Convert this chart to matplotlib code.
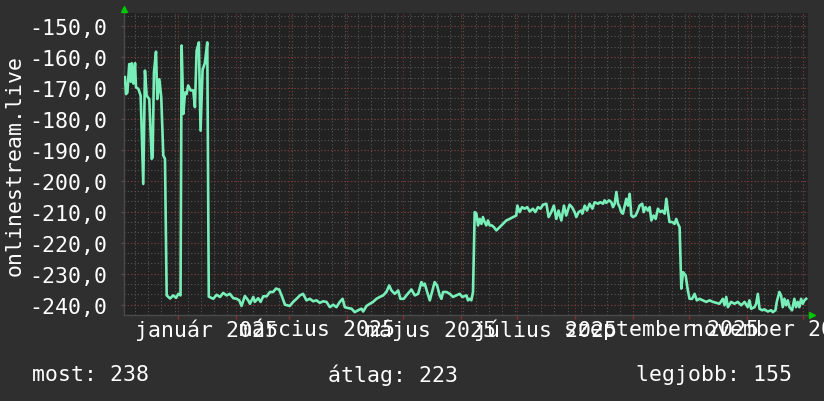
import matplotlib
matplotlib.use("Agg")
import matplotlib.pyplot as plt
import pandas as pd
import numpy as np

# day offsets from the first sample (2024-12-03) and the negated rank
start = pd.Timestamp("2024-12-03")
days = [0.5, 1.1, 1.8, 2.8, 3.6, 4.1, 5.0, 5.9, 6.4, 7.7, 8.9, 10.3, 11.2, 12.1, 13.5,
        14.8, 15.3, 16.0, 17.1, 17.8, 18.9, 19.9, 21.0, 21.9, 22.8, 24.6, 26.3, 27.8,
        29.0, 30.2, 30.8, 31.7, 32.6, 33.4, 34.3, 35.6, 37.0, 37.9, 38.8, 40.0, 40.9,
        42.0, 43.2, 44.5, 45.3, 47.7, 49.5, 51.3, 53.0, 54.8, 56.6, 58.4, 60.2, 61.6,
        62.8, 64.6, 66.4, 67.3, 69.1, 69.9, 71.7, 73.0, 74.4, 76.2, 78.0, 79.7, 81.2,
        82.9, 84.2, 86.0, 87.2, 88.6, 90.4, 92.2, 94.0, 95.7, 97.5, 99.3, 101.1, 102.9,
        104.6, 106.4, 108.2, 110.0, 111.8, 113.5, 115.3, 116.8, 118.0, 119.8, 121.6,
        123.3, 125.1, 126.9, 127.8, 129.6, 131.4, 133.1, 134.9, 136.7, 138.5, 140.2,
        141.7, 142.9, 144.7, 146.5, 147.7, 149.5, 150.9, 152.7, 153.6, 155.4, 157.2,
        158.9, 159.8, 160.7, 162.0, 163.4, 164.8, 166.0, 167.3, 168.7, 169.6, 170.5,
        172.3, 174.1, 175.8, 177.6, 179.4, 180.8, 183.0, 183.8, 184.7, 185.6, 186.5,
        187.4, 188.3, 189.2, 190.1, 191.0, 191.8, 192.7, 193.6, 194.5, 195.4, 196.6,
        197.7, 199.0, 200.7, 202.5, 204.3, 206.1, 207.9, 209.6, 210.2, 211.4, 212.7,
        214.1, 215.5, 216.8, 218.5, 219.8, 221.2, 222.6, 223.9, 225.7, 226.9, 228.3,
        229.7, 231.0, 232.2, 233.7, 235.1, 236.3, 238.1, 239.4, 240.8, 241.7, 242.9,
        244.3, 244.9, 246.2, 247.4, 248.8, 250.3, 251.5, 253.3, 254.5, 256.0, 256.8,
        257.7, 259.2, 260.4, 261.3, 262.2, 263.1, 264.0, 264.9, 265.7, 266.6, 268.4,
        269.3, 270.2, 271.1, 272.0, 273.4, 274.6, 275.5, 276.9, 277.7, 278.7, 280.0,
        280.9, 281.8, 283.0, 284.1, 285.3, 286.6, 287.6, 288.9, 289.8, 290.7, 291.5,
        293.0, 294.2, 295.1, 296.0, 296.9, 297.8, 298.7, 300.1, 301.3, 302.2, 303.6,
        304.9, 306.1, 307.5, 309.3, 311.1, 312.9, 314.7, 316.4, 318.2, 320.0, 320.9,
        321.8, 322.7, 324.4, 326.2, 328.0, 329.8, 331.6, 333.3, 334.2, 335.1, 336.9,
        337.8, 338.7, 339.6, 341.0, 342.2, 344.0, 345.8, 346.7, 348.1, 348.8, 350.2,
        351.1, 352.0, 352.9, 353.8, 354.7, 355.6, 357.0, 358.2, 359.1, 360.0, 360.9,
        361.8, 362.7, 363.6, 364.5]
rank = [-166.5, -172.0, -171.5, -162.3, -168.0, -162.0, -168.6, -162.0, -169.8, -170.3,
        -172.5, -201.0, -164.4, -172.5, -173.6, -192.9, -192.4, -165.0, -158.3, -173.6,
        -167.2, -173.0, -191.8, -192.9, -237.0, -238.0, -237.0, -237.8, -236.5, -237.0,
        -156.3, -178.4, -171.5, -172.0, -169.2, -170.8, -170.8, -176.2, -158.0, -155.3,
        -183.8, -164.1, -162.0, -155.3, -237.4, -238.1, -236.8, -237.5, -236.2, -237.0,
        -236.5, -237.9, -238.1, -238.6, -240.4, -237.2, -238.6, -239.7, -237.5, -239.1,
        -237.9, -239.1, -237.3, -237.3, -235.9, -235.9, -234.8, -235.1, -237.0, -240.0,
        -240.2, -240.4, -239.1, -238.1, -237.0, -236.5, -238.6, -238.1, -238.9, -238.6,
        -239.4, -238.9, -239.1, -240.8, -240.0, -240.8, -239.1, -238.1, -240.8, -241.1,
        -241.3, -242.4, -241.8, -241.3, -242.2, -240.4, -239.7, -239.1, -238.1, -237.5,
        -237.0, -235.9, -233.8, -235.4, -236.5, -235.4, -238.1, -238.1, -237.0, -235.7,
        -235.1, -237.0, -236.5, -232.7, -233.8, -233.2, -235.9, -238.6, -235.4, -232.7,
        -233.8, -237.0, -238.1, -235.9, -235.9, -236.5, -237.5, -237.0, -236.5, -237.5,
        -237.0, -238.6, -238.1, -238.6, -235.9, -210.1, -210.6, -214.4, -212.3, -213.9,
        -211.7, -213.3, -214.4, -212.8, -214.4, -214.4, -215.0, -216.0, -215.0, -213.9,
        -212.8, -212.3, -211.7, -211.2, -208.0, -210.1, -208.5, -209.0, -208.5, -209.9,
        -209.0, -210.1, -208.5, -209.0, -207.7, -207.4, -211.7, -210.1, -208.0, -212.3,
        -209.6, -212.8, -208.0, -211.2, -207.7, -208.5, -210.1, -211.7, -210.1, -209.6,
        -210.6, -208.0, -209.6, -207.4, -209.0, -206.9, -207.4, -206.9, -207.4, -206.3,
        -207.1, -206.3, -206.9, -208.5, -207.4, -203.6, -207.4, -208.5, -210.1, -210.6,
        -205.8, -208.0, -204.2, -211.2, -211.7, -211.2, -209.6, -208.0, -207.4, -210.1,
        -208.5, -209.6, -208.5, -212.8, -211.2, -212.3, -209.0, -210.1, -209.6, -210.6,
        -205.8, -210.1, -213.3, -213.3, -213.9, -212.3, -213.9, -215.0, -234.8, -229.5,
        -230.5, -235.4, -238.1, -238.1, -236.5, -238.6, -238.1, -238.6, -239.1, -238.6,
        -239.1, -239.4, -239.7, -238.1, -240.2, -237.5, -240.8, -239.1, -239.7, -239.1,
        -240.2, -239.1, -240.8, -238.6, -241.3, -240.8, -239.7, -236.5, -241.3, -241.8,
        -241.5, -242.2, -241.8, -242.4, -241.8, -239.1, -235.9, -237.0, -240.8, -238.1,
        -240.2, -238.6, -240.8, -241.8, -238.1, -240.8, -239.1, -240.8, -238.1, -239.7,
        -238.6, -238.1]

month_labels = ["január 2025", "március 2025", "május 2025", "július 2025",
                "szeptember 2025", "november 2025"]
label_months = ["2025-01", "2025-03", "2025-05", "2025-07", "2025-09", "2025-11"]
y_ticks = [-150, -160, -170, -180, -190, -200, -210, -220, -230, -240]
legend = ["most: 238", "átlag: 223", "legjobb: 155"]

W, H = 824, 402
bg = "#2f2f2f"
plot_bg = "#222222"
fg = "#ffffff"
mono = "DejaVu Sans Mono"
fs = 15.5

fig = plt.figure(figsize=(W / 100, H / 100), dpi=100, facecolor=bg)
ax = fig.add_axes([124 / W, 86 / H, 684 / W, 302 / H], facecolor=plot_bg)
x_max = 365.5
ax.set_xlim(0, x_max)
ax.set_ylim(-243.33, -145.8)

# grid: minor gray, major red
grid_gray = "#575757"
grid_red = "#7a3434"
dots = (0, (1, 2))
for v in np.arange(-243.33, -145.8, 10 / 3):
    ax.axhline(v, color=grid_gray, lw=0.8, ls=dots, zorder=1)
week0 = pd.Timestamp("2024-12-09")
for w in pd.date_range(week0, "2025-12-03", freq="7D"):
    ax.axvline((w - start).days, color=grid_gray, lw=0.8, ls=dots, zorder=1)
months = pd.date_range("2025-01-01", "2025-12-01", freq="MS")
month_pos = [(m - start).days for m in months]
for p in month_pos:
    ax.axvline(p, color=grid_red, lw=0.8, ls=dots, zorder=1.5)
for v in y_ticks:
    ax.axhline(v, color=grid_red, lw=0.8, ls=dots, zorder=1.5)

ax.plot(days, rank, color="#78efb8", lw=1.9, zorder=3)

for s in ["top", "right"]:
    ax.spines[s].set_visible(False)
for s in ["left", "bottom"]:
    ax.spines[s].set_color("#4a4a4a")
    ax.spines[s].set_linewidth(1.0)

ax.set_yticks(y_ticks)
ax.set_yticklabels([f"{v:.1f}".replace(".", ",") for v in y_ticks],
                   family=mono, fontsize=fs, color=fg)
ax.tick_params(axis="y", length=2, color="#555555", pad=10)
ax.set_xticks(month_pos)
ax.set_xticklabels([])
ax.tick_params(axis="x", length=3, color="#8a3030", width=1)

for lab, m in zip(month_labels, label_months):
    pos = (pd.Timestamp(m + "-16") - start).days
    ax.text(pos, -14 / 302, lab, transform=ax.get_xaxis_transform(),
            ha="center", va="center", family=mono, fontsize=fs, color=fg,
            clip_on=False)

# rrdtool style arrow heads
ax.plot([0], [1.012], marker="^", color="#00c800", ms=5, transform=ax.transAxes,
        clip_on=False, zorder=5)
ax.plot([1.006], [0], marker=">", color="#00c800", ms=5, transform=ax.transAxes,
        clip_on=False, zorder=5)

fig.text(15 / W, 1 - 165 / H, "onlinestream.live", rotation=90, ha="center",
         va="center", family=mono, fontsize=fs, color=fg)
for txt, xp in zip(legend, [32, 328, 636]):
    fig.text(xp / W, 1 - 375 / H, txt, ha="left", va="center", family=mono,
             fontsize=fs, color=fg)

fig.savefig("out.png", dpi=100, facecolor=bg)
